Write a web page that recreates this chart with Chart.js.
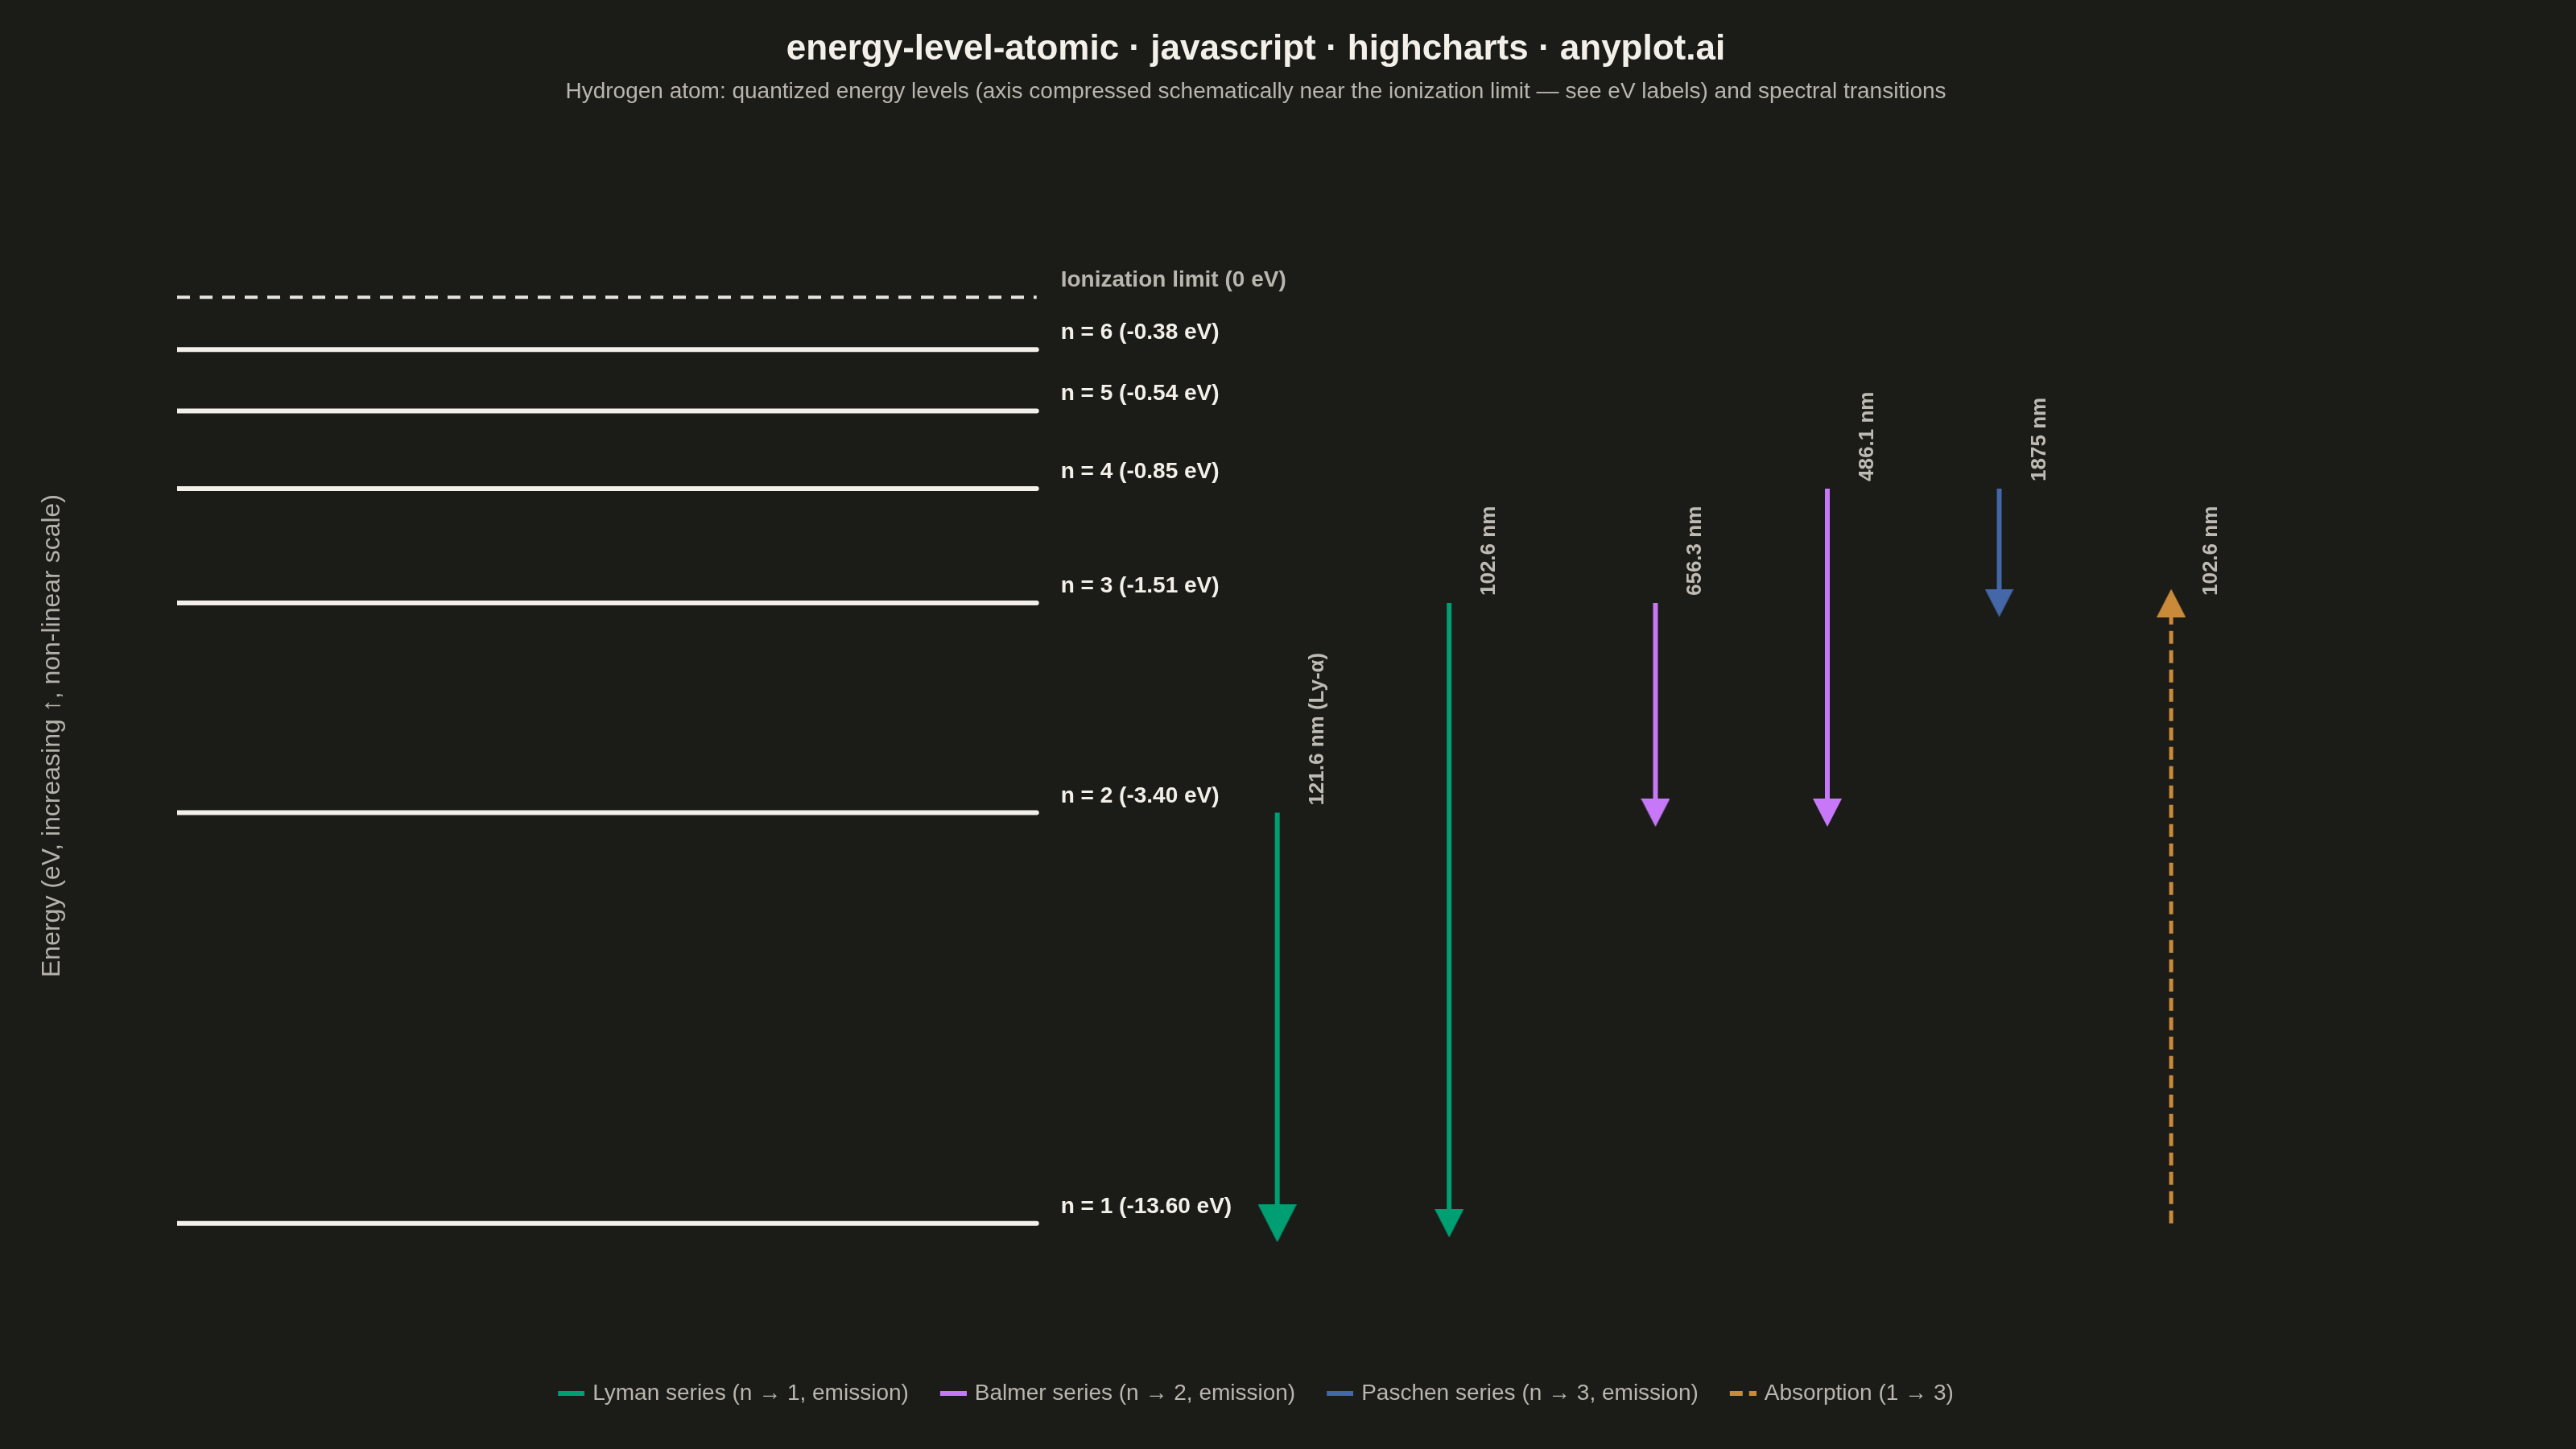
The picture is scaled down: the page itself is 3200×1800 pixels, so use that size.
<!DOCTYPE html>
<html><head><meta charset="utf-8">
<script src="https://cdn.jsdelivr.net/npm/chart.js@4/dist/chart.umd.min.js"></script>
<style>html,body{margin:0;padding:0;background:#1b1b17;}#wrap{width:3200px;height:1800px;}canvas{display:block;}</style>
</head><body><div id="wrap"><canvas id="c" width="3200" height="1800"></canvas></div>
<script>
// ---- data ----
const levelN = [1, 2, 3, 4, 5, 6];
const levelEnergy = [-13.60, -3.40, -1.51, -0.85, -0.54, -0.38];
// schematic (compressed) vertical positions
const levelDisplay = [-13.6, -7.57, -4.49, -2.81, -1.67, -0.77];
const levelSpan = [0, 5];
const ionizationEnergy = 0;
const ionizationDisplay = 0;

const seriesNames = ['Lyman series (n → 1, emission)', 'Balmer series (n → 2, emission)', 'Paschen series (n → 3, emission)', 'Absorption (1 → 3)'];
const seriesColors = ['#009e73', '#c678f8', '#4467a8', '#c98a3a'];
const seriesDashed = [false, false, false, true];

const transSeries = [0, 0, 1, 1, 2, 3];
const transFrom = [2, 3, 3, 4, 4, 1];
const transTo = [1, 1, 2, 2, 3, 3];
const transX = [6.4, 7.4, 8.6, 9.6, 10.6, 11.6];
const transLabel = ['121.6 nm (Ly-α)', '102.6 nm', '656.3 nm', '486.1 nm', '1875 nm', '102.6 nm'];
const transHighlight = [true, false, false, false, false, false];

const FONT = '"Liberation Sans", Arial, "DejaVu Sans", sans-serif';
const BG = '#1b1b17';

function tri(color, w, h, up) {
  const c = document.createElement('canvas');
  c.width = w; c.height = h;
  const g = c.getContext('2d');
  g.fillStyle = color;
  g.beginPath();
  if (up) { g.moveTo(w / 2, 0); g.lineTo(w, h); g.lineTo(0, h); }
  else { g.moveTo(0, 0); g.lineTo(w, 0); g.lineTo(w / 2, h); }
  g.closePath(); g.fill();
  return c;
}
// legend symbol: a short line drawn in the right part of a small canvas
function legendSym(color, dashed) {
  const c = document.createElement('canvas');
  c.width = 37; c.height = 8;
  const g = c.getContext('2d');
  g.strokeStyle = color; g.lineWidth = 6;
  g.setLineDash(dashed ? [16, 8] : []);
  g.beginPath(); g.moveTo(4, 4); g.lineTo(37, 4); g.stroke();
  return c;
}

const datasets = [];
levelN.forEach((n, i) => {
  datasets.push({
    type: 'line', label: 'level' + n,
    data: [{x: levelSpan[0], y: levelDisplay[i]}, {x: levelSpan[1], y: levelDisplay[i]}],
    borderColor: '#f2f0e9', borderWidth: 6, borderCapStyle: 'round', pointRadius: 0, order: 5
  });
});
datasets.push({
  type: 'line', label: 'ionization',
  data: [{x: levelSpan[0], y: ionizationDisplay}, {x: levelSpan[1], y: ionizationDisplay}],
  borderColor: '#e8e6df', borderWidth: 4, borderDash: [16, 12], pointRadius: 0, order: 5
});
seriesNames.forEach((name, s) => {
  const pts = [];
  transX.forEach((tx, i) => {
    if (transSeries[i] !== s) return;
    if (pts.length) pts.push({x: tx, y: null});
    const up = levelDisplay[transTo[i] - 1] > levelDisplay[transFrom[i] - 1];
    pts.push({x: tx, y: levelDisplay[transFrom[i] - 1], head: false});
    pts.push({x: tx, y: levelDisplay[transTo[i] - 1], head: true, big: transHighlight[i], up: up});
  });
  const col = seriesColors[s];
  const small = tri(col, 36, 35, false), big = tri(col, 48, 47, false), smallUp = tri(col, 36, 35, true);
  datasets.push({
    type: 'line', label: name, data: pts, spanGaps: false,
    borderColor: col, backgroundColor: col, borderWidth: s === 3 ? 5 : 6,
    borderDash: seriesDashed[s] ? [16, 8] : [],
    pointRadius: c => (c.raw && c.raw.head) ? 18 : 0,
    pointHoverRadius: c => (c.raw && c.raw.head) ? 18 : 0,
    pointStyle: c => (c.raw && c.raw.head) ? (c.raw.big ? big : (c.raw.up ? smallUp : small)) : 'circle',
    order: 1
  });
});

const bgPlugin = {
  id: 'bg',
  beforeDraw(chart) {
    const ctx = chart.ctx; ctx.save(); ctx.fillStyle = BG; ctx.fillRect(0, 0, chart.width, chart.height); ctx.restore();
  }
};

const labelPlugin = {
  id: 'levelLabels',
  afterDatasetsDraw(chart) {
    const {ctx, scales: {x, y}} = chart;
    ctx.save();
    ctx.textAlign = 'left'; ctx.textBaseline = 'alphabetic';
    const lx = x.getPixelForValue(levelSpan[1]) + 30;
    ctx.font = 'bold 28px ' + FONT;
    ctx.fillStyle = '#b8b6ae';
    ctx.fillText('Ionization limit (' + ionizationEnergy + ' eV)', lx, y.getPixelForValue(ionizationDisplay) - 13);
    ctx.fillStyle = '#f2f0e9';
    levelN.forEach((n, i) => {
      ctx.fillText('n = ' + n + ' (' + levelEnergy[i].toFixed(2) + ' eV)', lx, y.getPixelForValue(levelDisplay[i]) - 13);
    });
    ctx.font = 'bold 26px ' + FONT;
    ctx.fillStyle = '#bdbbb3';
    transX.forEach((tx, i) => {
      const upper = Math.max(levelDisplay[transFrom[i] - 1], levelDisplay[transTo[i] - 1]);
      ctx.save();
      ctx.translate(x.getPixelForValue(tx) + 57, y.getPixelForValue(upper) - 9);
      ctx.rotate(-Math.PI / 2);
      ctx.fillText(transLabel[i], 0, 0);
      ctx.restore();
    });
    ctx.restore();
  }
};

const legendSyms = seriesNames.map((n, s) => legendSym(seriesColors[s], seriesDashed[s]));

new Chart(document.getElementById('c'), {
  type: 'line',
  data: {datasets},
  plugins: [bgPlugin, labelPlugin],
  options: {
    responsive: false, animation: false, devicePixelRatio: 1, events: [],
    layout: {padding: {left: 30, right: 110, top: 0, bottom: 45}},
    scales: {
      x: {type: 'linear', min: 0, max: 13.44, display: false},
      y: {
        type: 'linear', min: -15.47, max: 2.59, display: true,
        grid: {display: false, drawTicks: false}, border: {display: false}, ticks: {display: false},
        title: {display: true, text: 'Energy (eV, increasing ↑, non-linear scale)', color: '#b3b1a9',
          font: {family: FONT, size: 32}, padding: {top: 15.8, bottom: 135.8}}
      }
    },
    plugins: {
      title: {display: true, text: 'energy-level-atomic · javascript · highcharts · anyplot.ai', color: '#f2f0e9',
        font: {family: FONT, size: 44, weight: 'bold'}, padding: {top: 35, bottom: 0}},
      subtitle: {display: true, text: 'Hydrogen atom: quantized energy levels (axis compressed schematically near the ionization limit — see eV labels) and spectral transitions',
        color: '#b8b6ae', font: {family: FONT, size: 28}, padding: {top: 9.4, bottom: 19.2}},
      legend: {
        position: 'bottom',
        labels: {
          usePointStyle: true, pointStyleWidth: 29, padding: 39, color: '#b8b6ae',
          font: {family: FONT, size: 28},
          generateLabels: () => seriesNames.map((name, s) => ({
            text: name, fillStyle: seriesColors[s], strokeStyle: seriesColors[s], lineWidth: 0,
            pointStyle: legendSyms[s], hidden: false,
            fontColor: '#b8b6ae', datasetIndex: levelN.length + 1 + s
          }))
        }
      },
      tooltip: {enabled: false}
    }
  }
});
</script></body></html>
